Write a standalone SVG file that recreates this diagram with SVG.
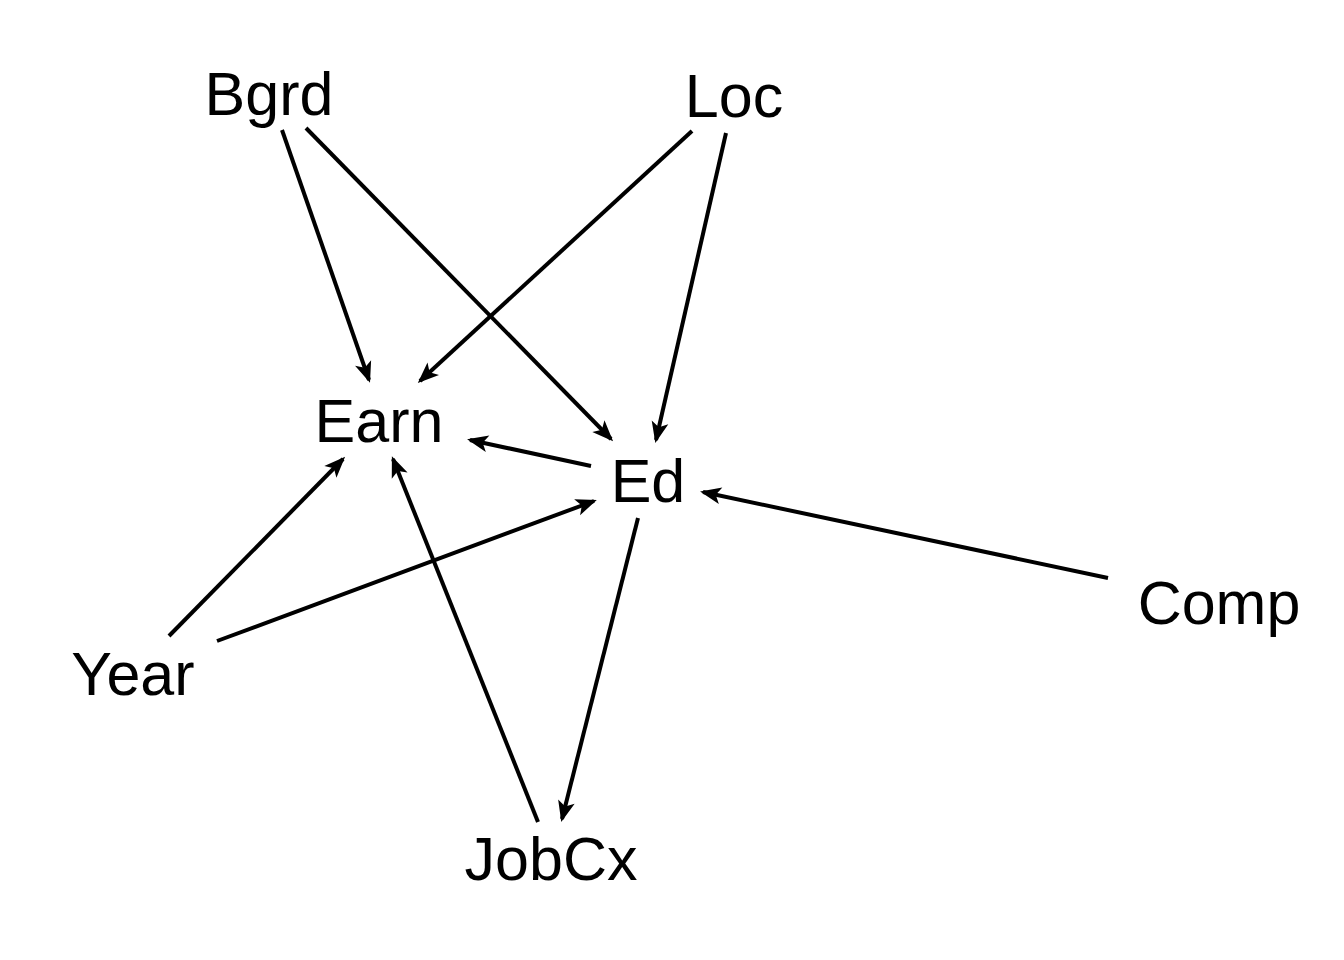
<svg xmlns="http://www.w3.org/2000/svg" width="1344" height="960" viewBox="0 0 1344 960">
<style>
.lbl{font-family:"Liberation Sans",Arial,sans-serif;font-size:61px;fill:#000;text-anchor:middle}
.e{stroke:#000;stroke-width:4;fill:none;marker-end:url(#ah)}
</style>
<defs>
<marker id="ah" markerUnits="userSpaceOnUse" markerWidth="40" markerHeight="40" refX="0" refY="0" orient="auto" overflow="visible">
<path d="M3,0 L-18,-8.5 L-13,0 L-18,8.5 Z" fill="#000"/>
</marker>
</defs>
<rect width="1344" height="960" fill="#fff"/>
<g id="edges">
<line class="e" x1="282" y1="130" x2="369" y2="380"/>
<line class="e" x1="306" y1="128" x2="611" y2="439"/>
<line class="e" x1="692" y1="131" x2="420" y2="381"/>
<line class="e" x1="726" y1="133" x2="656" y2="440"/>
<line class="e" x1="591" y1="466" x2="470" y2="440"/>
<line class="e" x1="169" y1="636" x2="343" y2="459"/>
<line class="e" x1="217" y1="641" x2="594" y2="501"/>
<line class="e" x1="1108" y1="578" x2="703" y2="492"/>
<line class="e" x1="638" y1="518" x2="562" y2="819"/>
<line class="e" x1="538" y1="822" x2="393" y2="459"/>
</g>
<g id="Bgrd"><text class="lbl" x="269" y="115">Bgrd</text></g>
<g id="Loc"><text class="lbl" x="734" y="117">Loc</text></g>
<g id="Earn"><text class="lbl" x="379" y="442">Earn</text></g>
<g id="Ed"><text class="lbl" x="648" y="502">Ed</text></g>
<g id="Comp"><text class="lbl" x="1219" y="624">Comp</text></g>
<g id="Year"><text class="lbl" x="133" y="695">Year</text></g>
<g id="JobCx"><text class="lbl" x="551" y="880">JobCx</text></g>
</svg>
